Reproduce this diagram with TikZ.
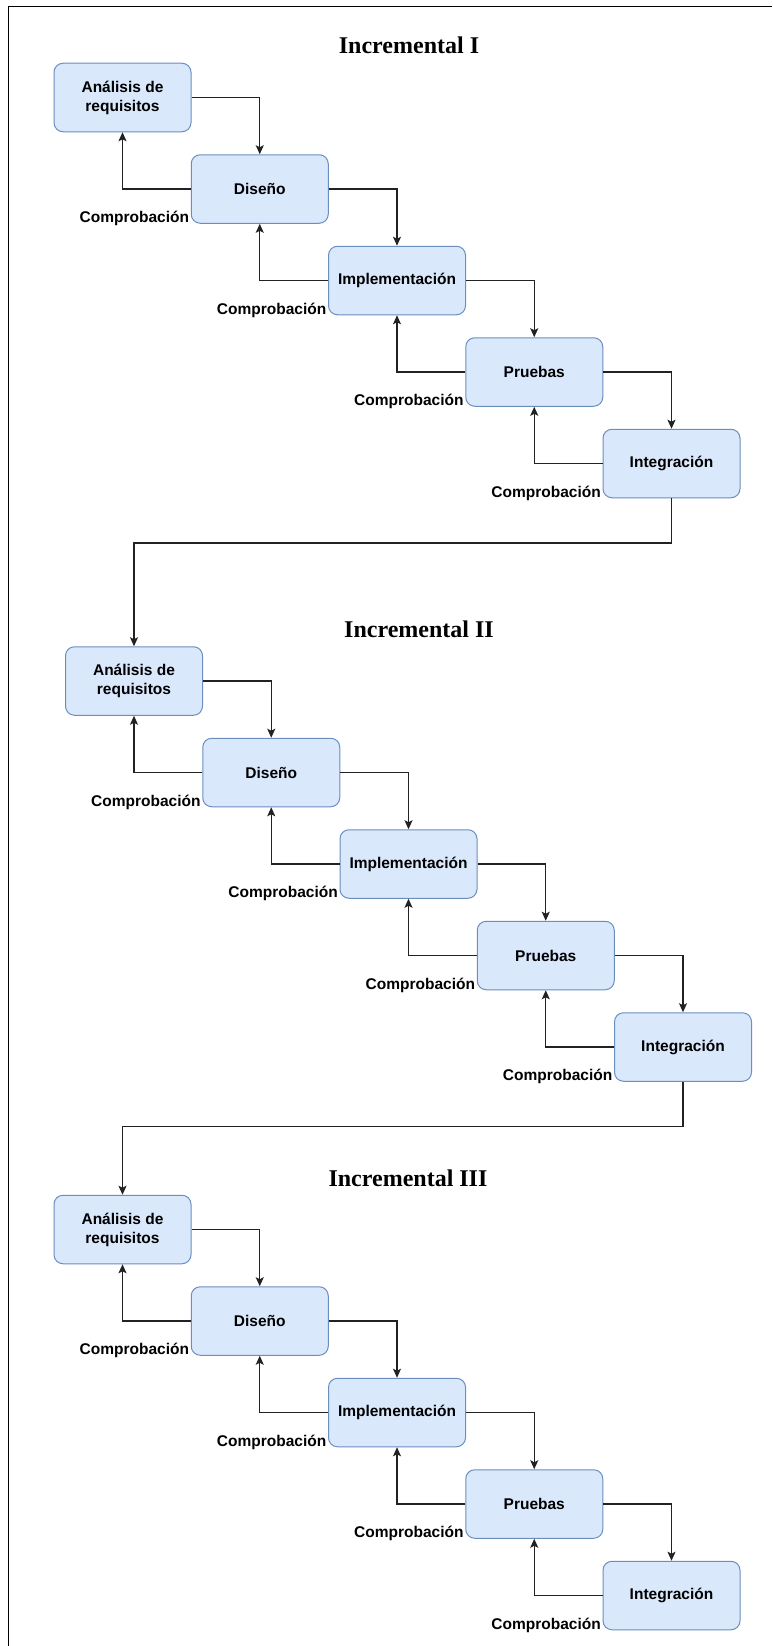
\documentclass[tikz,border=0pt]{standalone}
\usepackage{fontspec}
\setmainfont{Liberation Sans}
\newfontfamily\titlefont{Liberation Serif}
\usetikzlibrary{arrows.meta}
\definecolor{stagefill}{HTML}{DAE8FC}
\definecolor{stageborder}{HTML}{6C8EBF}
\definecolor{linecol}{HTML}{222222}
\begin{document}
\begin{tikzpicture}[x=1pt,y=-1pt,
  stage/.style={draw=stageborder, fill=stagefill, line width=1pt, rounded corners=9pt,
    minimum width=137pt, minimum height=68.5pt, align=center, inner sep=0pt,
    font=\fontsize{15.5}{19}\selectfont\bfseries},
  conn/.style={line width=1.2pt, draw=linecol, -{Stealth[length=9pt,width=8pt,inset=2pt]}},
  lbl/.style={font=\fontsize{15.5}{19}\selectfont\bfseries, inner sep=0pt, anchor=east},
  ttl/.style={font=\titlefont\fontsize{24}{28}\selectfont\bfseries, anchor=base, inner sep=0pt}]
\useasboundingbox (0,0) rectangle (772,1646);
\draw[line width=1.3pt] (8.5,1646) -- (8.5,6.5) -- (772,6.5);

\node[ttl] (T1) at (409,54) {Incremental I};
\node[ttl] (T2) at (419,637) {Incremental II};
\node[ttl] (T3) at (408,1186) {Incremental III};

\foreach \s/\ox/\oy in {1/0/0, 2/11.5/583.5, 3/0/1132} {
  \node[stage] (A\s) at (122.5+\ox, 97.5+\oy) {Análisis de\\requisitos};
  \node[stage] (D\s) at (259.75+\ox, 189+\oy) {Diseño};
  \node[stage] (I\s) at (397+\ox, 280.5+\oy) {Implementación};
  \node[stage] (P\s) at (534.25+\ox, 372+\oy) {Pruebas};
  \node[stage] (G\s) at (671.5+\ox, 463.5+\oy) {Integración};
  \draw[conn] (A\s.east) -| (D\s.north);
  \draw[conn] (D\s.east) -| (I\s.north);
  \draw[conn] (I\s.east) -| (P\s.north);
  \draw[conn] (P\s.east) -| (G\s.north);
  \draw[conn] (D\s.west) -| (A\s.south);
  \draw[conn] (I\s.west) -| (D\s.south);
  \draw[conn] (P\s.west) -| (I\s.south);
  \draw[conn] (G\s.west) -| (P\s.south);
  \node[lbl] (cD\s) at ([shift={(-1.5pt,5pt)}]D\s.south west) {Comprobación};
  \node[lbl] (cI\s) at ([shift={(-1.5pt,5pt)}]I\s.south west) {Comprobación};
  \node[lbl] (cP\s) at ([shift={(-1.5pt,5pt)}]P\s.south west) {Comprobación};
  \node[lbl] (cG\s) at ([shift={(-1.5pt,5pt)}]G\s.south west) {Comprobación};
}

\coordinate (t1) at (134,543);
\draw[conn] (G1.south) |- (t1) -- (A2.north);
\coordinate (t2) at (122.5,1126.5);
\draw[conn] (G2.south) |- (t2) -- (A3.north);
\end{tikzpicture}
\end{document}
